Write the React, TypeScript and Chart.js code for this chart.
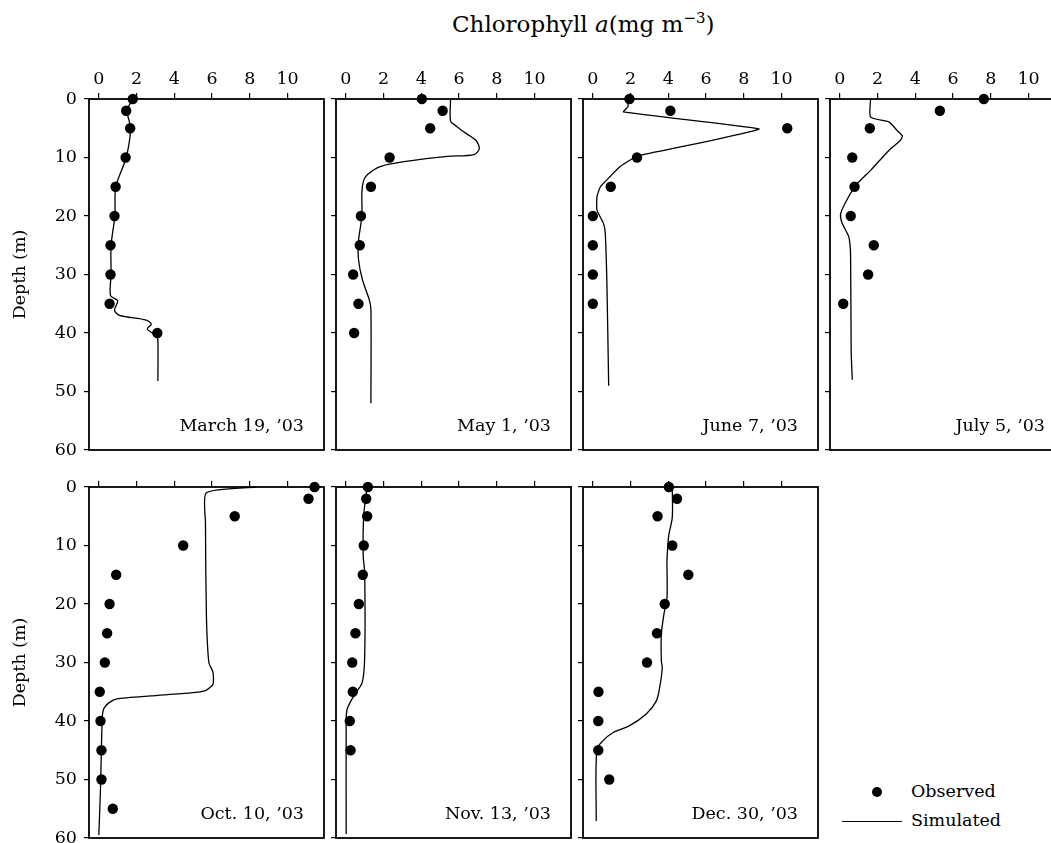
import React, { useEffect, useRef } from "react";
import { Chart, registerables } from "chart.js";

Chart.register(...registerables);

const FONT = "'DejaVu Serif', 'Liberation Serif', serif";

// ---- axis ticks ----
const chlTicks = [0, 2, 4, 6, 8, 10];
const depthTicks = [0, 10, 20, 30, 40, 50, 60];

// ---- panel labels ----
const panelLabels = [
  "March 19, \u201903",
  "May 1, \u201903",
  "June 7, \u201903",
  "July 5, \u201903",
  "Oct. 10, \u201903",
  "Nov. 13, \u201903",
  "Dec. 30, \u201903",
];

// ---- March 19 ----
const marObsDepth = [0, 2, 5, 10, 15, 20, 25, 30, 35, 40];
const marObsChl = [1.8, 1.45, 1.66, 1.42, 0.89, 0.83, 0.62, 0.62, 0.57, 3.1];
const marSimDepth = [0, 2, 5, 10, 15, 20, 25, 30, 33.6, 34.5, 36.1, 37.0, 37.8, 38.5, 39.3, 40.5, 41.3, 48.2];
const marSimChl = [1.8, 1.5, 1.68, 1.45, 0.9, 0.85, 0.65, 0.65, 0.62, 1.0, 0.83, 1.1, 2.51, 2.78, 2.57, 3.05, 3.13, 3.13];

// ---- May 1 ----
const mayObsDepth = [0, 2, 5, 10, 15, 20, 25, 30, 35, 40];
const mayObsChl = [4.03, 5.13, 4.47, 2.32, 1.33, 0.8, 0.74, 0.39, 0.67, 0.44];
const maySimDepth = [0, 3.8, 4.6, 5.7, 7.1, 8.5, 9.5, 9.8, 10.7, 11.5, 12.9, 14.0, 16.0, 20, 24.3, 27.4, 30.9, 34.3, 36, 52];
const maySimChl = [5.55, 5.55, 5.84, 6.28, 6.9, 7.07, 6.8, 5.38, 3.08, 1.86, 1.15, 0.94, 0.85, 0.85, 0.67, 0.67, 0.88, 1.24, 1.33, 1.33];

// ---- June 7 ----
const junObsDepth = [0, 2, 5, 10, 15, 20, 25, 30, 35];
const junObsChl = [1.94, 4.11, 10.3, 2.34, 0.95, 0.0, 0.0, 0.0, 0.0];
const junSimDepth = [0, 1.3, 2.2, 5.1, 6.1, 7.5, 8.9, 9.8, 11.5, 13.2, 15, 16.7, 19, 21.3, 23, 32, 49];
const junSimChl = [1.86, 1.86, 1.63, 8.8, 7.65, 5.7, 3.58, 2.34, 1.46, 0.93, 0.4, 0.22, 0.22, 0.57, 0.66, 0.75, 0.84];

// ---- July 5 ----
const julObsDepth = [0, 2, 5, 10, 15, 20, 25, 30, 35];
const julObsChl = [7.63, 5.3, 1.59, 0.66, 0.78, 0.58, 1.8, 1.5, 0.18];
const julSimDepth = [0, 3.1, 3.9, 5.4, 6.3, 7.1, 8.8, 12.2, 14.8, 17.7, 19.7, 21.2, 23.6, 26.8, 42.8, 48];
const julSimChl = [1.63, 1.63, 2.6, 3.04, 3.31, 3.2, 2.6, 1.63, 0.83, 0.3, 0.04, 0.12, 0.48, 0.57, 0.6, 0.66];

// ---- Oct 10 ----
const octObsDepth = [0, 2, 5, 10, 15, 20, 25, 30, 35, 40, 45, 50, 55];
const octObsChl = [11.43, 11.11, 7.2, 4.47, 0.92, 0.57, 0.44, 0.32, 0.05, 0.09, 0.14, 0.14, 0.74];
const octSimDepth = [0, 0.97, 6.1, 22, 30, 31.7, 33.7, 34.8, 35.2, 35.7, 36.2, 36.9, 37.9, 39.6, 51.5, 59.5];
const octSimChl = [8.34, 5.7, 5.65, 5.7, 5.83, 6.05, 6.05, 5.65, 4.85, 2.74, 0.97, 0.53, 0.26, 0.18, 0.09, 0.0];

// ---- Nov 13 ----
const novObsDepth = [0, 2, 5, 10, 15, 20, 25, 30, 35, 40, 45];
const novObsChl = [1.17, 1.08, 1.13, 0.95, 0.9, 0.69, 0.51, 0.34, 0.37, 0.21, 0.25];
const novSimDepth = [0, 4.8, 11.8, 14.6, 28.9, 33.4, 35.7, 38, 40.3, 59.3];
const novSimChl = [1.13, 0.95, 0.92, 1.0, 1.0, 0.87, 0.42, 0.07, 0.02, 0.02];

// ---- Dec 30 ----
const decObsDepth = [0, 2, 5, 10, 15, 20, 25, 30, 35, 40, 45, 50];
const decObsChl = [4.03, 4.46, 3.43, 4.21, 5.06, 3.81, 3.4, 2.87, 0.3, 0.29, 0.29, 0.87];
const decSimDepth = [0, 5.2, 8.1, 9.8, 12.6, 18.9, 21.7, 25.2, 29.7, 30.9, 34.3, 36.6, 38.8, 40.8, 42, 43.4, 44.9, 57.1];
const decSimChl = [4.21, 4.21, 4.03, 3.98, 3.93, 3.93, 3.77, 3.63, 3.63, 3.68, 3.54, 3.36, 2.83, 1.95, 1.06, 0.53, 0.21, 0.18];

const panels = [
  { label: panelLabels[0], obsDepth: marObsDepth, obsChl: marObsChl, simDepth: marSimDepth, simChl: marSimChl, tension: 0.3 },
  { label: panelLabels[1], obsDepth: mayObsDepth, obsChl: mayObsChl, simDepth: maySimDepth, simChl: maySimChl, tension: 0.3 },
  { label: panelLabels[2], obsDepth: junObsDepth, obsChl: junObsChl, simDepth: junSimDepth, simChl: junSimChl, tension: 0.15 },
  { label: panelLabels[3], obsDepth: julObsDepth, obsChl: julObsChl, simDepth: julSimDepth, simChl: julSimChl, tension: 0.2 },
  { label: panelLabels[4], obsDepth: octObsDepth, obsChl: octObsChl, simDepth: octSimDepth, simChl: octSimChl, tension: 0.2 },
  { label: panelLabels[5], obsDepth: novObsDepth, obsChl: novObsChl, simDepth: novSimDepth, simChl: novSimChl, tension: 0.3 },
  { label: panelLabels[6], obsDepth: decObsDepth, obsChl: decObsChl, simDepth: decSimDepth, simChl: decSimChl, tension: 0.3 },
];

// ---- layout ----
const COL_LEFT = [89, 336, 583, 830];
const ROW_TOP = [99, 487];
const PLOT_W = 235;
const PLOT_H = 351;
const TOP_SPACE = 45;
const RIGHT_PAD = 20;
const BOTTOM_PAD = 20;

const framePlugin = {
  id: "panelFrame",
  beforeDatasetsDraw(chart: any) {
    const { ctx, chartArea: a } = chart;
    ctx.save();
    ctx.strokeStyle = "#000";
    ctx.lineWidth = 1.8;
    ctx.strokeRect(a.left, a.top, a.right - a.left, a.bottom - a.top);
    ctx.restore();
  },
  afterDraw(chart: any, _args: any, opts: any) {
    const { ctx, chartArea: a } = chart;
    ctx.save();
    ctx.font = `17.5px ${FONT}`;
    ctx.fillStyle = "#000";
    ctx.textAlign = "right";
    ctx.textBaseline = "alphabetic";
    ctx.fillText(opts.text, a.right - 20, a.bottom - 19);
    ctx.restore();
  },
};

function PanelChart({ index }: { index: number }) {
  const ref = useRef<HTMLCanvasElement>(null);
  const p = panels[index];
  const row = index < 4 ? 0 : 1;
  const col = index < 4 ? index : index - 4;
  const leftSpace = col === 0 ? 89 : 14;
  const W = leftSpace + PLOT_W + RIGHT_PAD;
  const H = TOP_SPACE + PLOT_H + BOTTOM_PAD;
  const left = COL_LEFT[col] - leftSpace;
  const top = ROW_TOP[row] - TOP_SPACE;

  useEffect(() => {
    if (!ref.current) return;
    const tickFont = { family: FONT, size: 17.5 };
    const chart = new Chart(ref.current, {
      type: "scatter",
      data: {
        datasets: [
          {
            label: "Observed",
            data: p.obsDepth.map((d, i) => ({ x: p.obsChl[i], y: d })),
            showLine: false,
            pointRadius: 5.2,
            pointHoverRadius: 5.2,
            pointBackgroundColor: "#000",
            pointBorderColor: "#000",
            pointBorderWidth: 0,
            clip: false,
          } as any,
          {
            label: "Simulated",
            data: p.simDepth.map((d, i) => ({ x: p.simChl[i], y: d })),
            showLine: true,
            pointRadius: 0,
            pointHoverRadius: 0,
            borderColor: "#000",
            borderWidth: 1.3,
            tension: p.tension,
            fill: false,
            clip: false,
          } as any,
        ],
      },
      options: {
        responsive: false,
        animation: false,
        devicePixelRatio: 1,
        events: [],
        layout: { padding: { left: 0, top: 0, right: RIGHT_PAD, bottom: BOTTOM_PAD } },
        plugins: {
          legend: { display: false },
          tooltip: { enabled: false },
          panelFrame: { text: p.label },
        } as any,
        scales: {
          x: {
            type: "linear",
            position: "top",
            min: -0.52,
            max: 11.93,
            afterBuildTicks: (s: any) => {
              s.ticks = chlTicks.map((v) => ({ value: v }));
            },
            afterFit: (s: any) => {
              s.height = TOP_SPACE;
              s.paddingLeft = 0;
              s.paddingRight = 0;
            },
            ticks: {
              display: row === 0,
              font: tickFont,
              color: "#000",
              padding: 3,
              maxRotation: 0,
              autoSkip: false,
            },
            grid: {
              drawOnChartArea: false,
              drawTicks: true,
              tickLength: 6,
              color: "#000",
              lineWidth: 1.2,
            },
            border: { display: false },
          },
          y: {
            type: "linear",
            reverse: true,
            min: 0,
            max: 60,
            afterBuildTicks: (s: any) => {
              s.ticks = depthTicks.map((v) => ({ value: v }));
            },
            afterFit: (s: any) => {
              s.width = leftSpace;
              s.paddingTop = 0;
              s.paddingBottom = 0;
            },
            ticks: {
              display: col === 0,
              font: tickFont,
              color: "#000",
              padding: 7,
              autoSkip: false,
            },
            grid: {
              drawOnChartArea: false,
              drawTicks: true,
              tickLength: 5,
              color: "#000",
              lineWidth: 1.2,
            },
            border: { display: false },
            title: {
              display: col === 0,
              text: "Depth (m)",
              font: { family: FONT, size: 17.5 },
              color: "#000",
              padding: { top: 10, bottom: 0 },
            },
          },
        },
      } as any,
      plugins: [framePlugin],
    });
    return () => chart.destroy();
  }, []);

  return (
    <canvas
      ref={ref}
      width={W}
      height={H}
      style={{ position: "absolute", left, top, width: W, height: H }}
    />
  );
}

export default function App() {
  return (
    <div
      style={{
        position: "absolute",
        left: 0,
        top: 0,
        width: 1051,
        height: 843,
        overflow: "hidden",
        background: "#fff",
        fontFamily: FONT,
        color: "#000",
      }}
    >
      <div
        style={{
          position: "absolute",
          left: 452,
          top: 11,
          fontSize: 23,
          lineHeight: "26px",
          whiteSpace: "nowrap",
        }}
      >
        Chlorophyll <i>a</i>(mg m<sup style={{ fontSize: 15, verticalAlign: "9px", lineHeight: 0 }}>{"\u22123"}</sup>)
      </div>
      {panels.map((_, i) => (
        <PanelChart key={i} index={i} />
      ))}
      <div
        style={{
          position: "absolute",
          left: 872,
          top: 787,
          width: 10,
          height: 10,
          borderRadius: "50%",
          background: "#000",
        }}
      />
      <div style={{ position: "absolute", left: 911, top: 781, fontSize: 17.5, lineHeight: "20px" }}>Observed</div>
      <div
        style={{
          position: "absolute",
          left: 842,
          top: 821,
          width: 60,
          height: 0,
          borderTop: "1.3px solid #000",
        }}
      />
      <div style={{ position: "absolute", left: 911, top: 810, fontSize: 17.5, lineHeight: "20px" }}>Simulated</div>
    </div>
  );
}
